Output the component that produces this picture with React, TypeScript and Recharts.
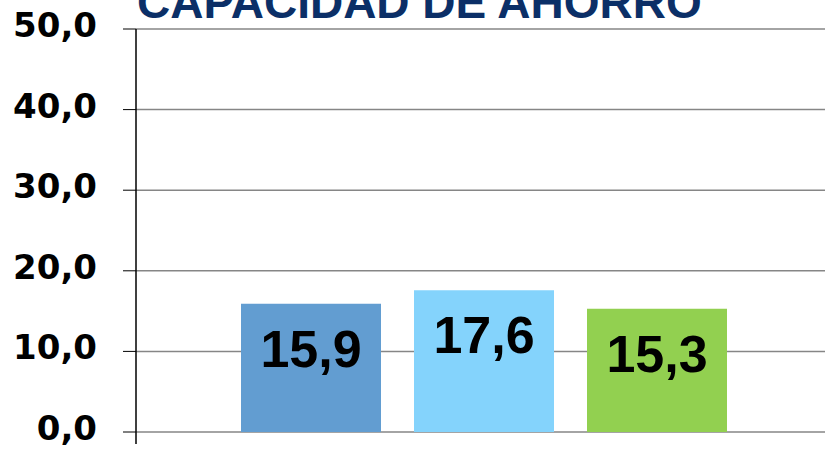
import * as R from "recharts";
import { BarChart, Bar, XAxis, YAxis, CartesianGrid, LabelList } from "recharts";

const categories = ["Capacidad"];
const serieA = [15.9];
const serieB = [17.6];
const serieC = [15.3];
const yTicks = [0, 10, 20, 30, 40, 50];

const SERIES = [
  { key: "a", color: "#629dd1" },
  { key: "b", color: "#84d3fc" },
  { key: "c", color: "#92d050" },
];

const data = categories.map((c, i) => ({ name: c, a: serieA[i], b: serieB[i], c: serieC[i] }));

function fmt(v: number) {
  return Number(v).toFixed(1).replace(".", ",");
}

const useOffsetHook: any = (R as any).useOffset;

// small tick under the category axis, where the value axis meets it
function EdgeMark() {
  const off = useOffsetHook ? useOffsetHook() : null;
  if (!off) return null;
  const x = off.left;
  const y = 450 - off.bottom;
  return <line x1={x} x2={x} y1={y} y2={y + 12} stroke="#000" strokeWidth={1.5} />;
}

export default function App() {
  return (
    <div style={{ position: "absolute", left: 0, top: 0, width: 825, height: 450, overflow: "hidden", background: "#fff" }}>
      <div
        style={{
          position: "absolute",
          left: 137,
          top: -21,
          fontFamily: "'Liberation Sans', Arial, sans-serif",
          fontWeight: "bold",
          fontSize: 46,
          lineHeight: "46px",
          color: "#0b2f67",
          whiteSpace: "nowrap",
        }}
      >
        CAPACIDAD DE AHORRO
      </div>
      <BarChart
        width={825}
        height={450}
        data={data}
        margin={{ top: 29, right: -7, bottom: 18, left: 0 }}
        barGap={33}
        style={{ position: "absolute", left: 0, top: 0 }}
      >
        <CartesianGrid vertical={false} stroke="#868686" strokeWidth={1.5} />
        <XAxis
          dataKey="name"
          height={0}
          axisLine={{ stroke: "#000", strokeWidth: 1.5 }}
          tickLine={false}
          tick={false}
        />
        <YAxis
          domain={[0, 50]}
          ticks={yTicks}
          width={136}
          tickFormatter={fmt}
          axisLine={{ stroke: "#000", strokeWidth: 1.5 }}
          tickLine={{ stroke: "#000", strokeWidth: 1 }}
          tickSize={13}
          tickMargin={26}
          tick={{ fill: "#000", fontSize: 34, fontWeight: "bold", fontFamily: "'DejaVu Sans', sans-serif", dy: -4 }}
          interval={0}
        />
        {SERIES.map((s) => (
          <Bar key={s.key} dataKey={s.key} fill={s.color} barSize={140} isAnimationActive={false}>
            <LabelList
              dataKey={s.key}
              position="insideTop"
              offset={26}
              formatter={(v: any) => fmt(v)}
              fill="#000"
              fontSize={52}
              fontWeight="bold"
              fontFamily="'Liberation Sans', Arial, sans-serif"
            />
          </Bar>
        ))}
        <EdgeMark />
      </BarChart>
    </div>
  );
}
